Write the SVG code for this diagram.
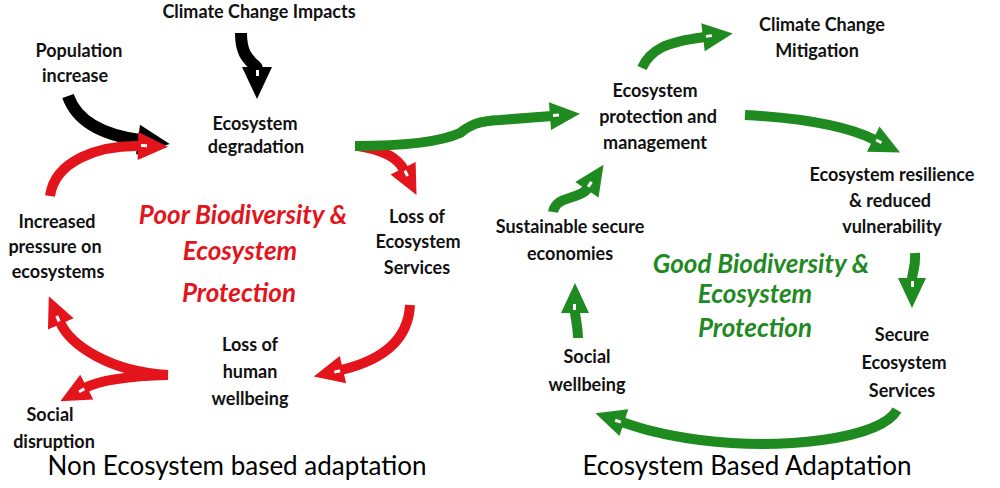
<svg xmlns="http://www.w3.org/2000/svg" width="1000" height="488" viewBox="0 0 1000 488">
<style>
.t{font-family:Lato,"Open Sans","Liberation Sans",sans-serif;font-weight:bold;font-size:18px;fill:#111;text-anchor:middle}
.h{font-family:Lato,"Open Sans","Liberation Sans",sans-serif;font-weight:bold;font-style:italic;font-size:26px;text-anchor:middle}
.ti{font-family:Lato,"Open Sans","Liberation Sans",sans-serif;font-size:26px;fill:#000;text-anchor:middle}
.red{fill:#e3141b}.grn{fill:#1f8a1f}
.k{fill:none;stroke:#000;stroke-width:12}
.r{fill:none;stroke:#e3141b;stroke-width:10}
.g{fill:none;stroke:#1f8a1f;stroke-width:10}
</style>
<defs>
<marker id="hk" markerUnits="userSpaceOnUse" markerWidth="30" markerHeight="30" viewBox="0 0 30 30" refX="2" refY="15" orient="auto" overflow="visible"><path d="M0,0 L32,15 L0,30 z" fill="#000"/><rect x="3" y="13" width="6" height="3" fill="#fff"/></marker>
<marker id="hr" markerUnits="userSpaceOnUse" markerWidth="30" markerHeight="30" viewBox="0 0 30 30" refX="2" refY="15" orient="auto" overflow="visible"><path d="M0,1 L30,15 L0,29 z" fill="#e3141b"/><rect x="3" y="13" width="6" height="3" fill="#fff"/></marker>
<marker id="hg" markerUnits="userSpaceOnUse" markerWidth="30" markerHeight="30" viewBox="0 0 30 30" refX="2" refY="15" orient="auto" overflow="visible"><path d="M0,1 L30,15 L0,29 z" fill="#1f8a1f"/><rect x="3" y="13" width="6" height="3" fill="#fff"/></marker>
</defs>
<rect width="1000" height="488" fill="#fff"/>
<g id="connectors">
<path class="k" d="M241,33 C241,52 247,58 253,64 C256,66 257,67 257,69" marker-end="url(#hk)"/>
<path class="k" d="M68,96 C78,125 110,136 140,140" marker-end="url(#hk)"/>
<path class="r" d="M50,196 C55,160 100,145 140,146" marker-end="url(#hr)"/>
<path class="r" d="M358,146 C385,150 398,158 404,170" marker-end="url(#hr)"/>
<path class="g" d="M355,146 C400,146 440,142 460,133 C470,125 478,121 500,120 L552,116" marker-end="url(#hg)"/>
<path class="r" d="M410,305 C408,345 375,362 341,370" marker-end="url(#hr)"/>
<path class="r" d="M168,375 C110,372 70,345 60,322" marker-end="url(#hr)"/>
<path class="r" d="M168,375 C130,376 100,380 85,388" marker-end="url(#hr)"/>
<path class="g" d="M642,68 C650,50 665,42 705,37" marker-end="url(#hg)"/>
<path class="g" d="M745,115 C800,118 845,125 875,140" marker-end="url(#hg)"/>
<path class="g" d="M553,212 C556,195 580,200 588,188" marker-end="url(#hg)"/>
<path class="g" d="M915,253 C916,268 912,272 912,280" marker-end="url(#hg)"/>
<path class="g" d="M897,410 C880,440 780,450 700,440 C660,435 640,428 622,422" marker-end="url(#hg)"/>
<path class="g" d="M578,338 C578,325 575,318 575,311" marker-end="url(#hg)"/>
</g>
<g id="climate-impacts"><text class="t" x="259" y="18">Climate Change Impacts</text></g>
<g id="population"><text class="t" x="79" y="57">Population</text><text class="t" x="75" y="82">increase</text></g>
<g id="degradation"><text class="t" x="255" y="130">Ecosystem</text><text class="t" x="256" y="153">degradation</text></g>
<g id="poor-label"><text class="h red" x="243" y="224">Poor Biodiversity &amp;</text><text class="h red" x="240" y="260">Ecosystem</text><text class="h red" x="239" y="302">Protection</text></g>
<g id="increased-pressure"><text class="t" x="57" y="228">Increased</text><text class="t" x="55" y="253">pressure on</text><text class="t" x="58" y="278">ecosystems</text></g>
<g id="loss-services"><text class="t" x="417" y="223">Loss of</text><text class="t" x="418" y="248">Ecosystem</text><text class="t" x="417" y="274">Services</text></g>
<g id="loss-wellbeing"><text class="t" x="250" y="351">Loss of</text><text class="t" x="250" y="378">human</text><text class="t" x="250" y="405">wellbeing</text></g>
<g id="social-disruption"><text class="t" x="50" y="421">Social</text><text class="t" x="54" y="448">disruption</text></g>
<g id="title-left"><text class="ti" x="237" y="475">Non Ecosystem based adaptation</text></g>
<g id="title-right"><text class="ti" x="747" y="475">Ecosystem Based Adaptation</text></g>
<g id="mitigation"><text class="t" x="822" y="31">Climate Change</text><text class="t" x="817" y="57">Mitigation</text></g>
<g id="protection"><text class="t" x="655" y="97">Ecosystem</text><text class="t" x="658" y="123">protection and</text><text class="t" x="655" y="149">management</text></g>
<g id="resilience"><text class="t" x="892" y="181">Ecosystem resilience</text><text class="t" x="890" y="207">&amp; reduced</text><text class="t" x="892" y="233">vulnerability</text></g>
<g id="sustainable"><text class="t" x="570" y="233">Sustainable secure</text><text class="t" x="570" y="260">economies</text></g>
<g id="good-label"><text class="h grn" x="761" y="273">Good Biodiversity &amp;</text><text class="h grn" x="755" y="303">Ecosystem</text><text class="h grn" x="755" y="337">Protection</text></g>
<g id="secure-services"><text class="t" x="902" y="341">Secure</text><text class="t" x="904" y="369">Ecosystem</text><text class="t" x="902" y="397">Services</text></g>
<g id="social-wellbeing"><text class="t" x="587" y="363">Social</text><text class="t" x="587" y="391">wellbeing</text></g>
</svg>
